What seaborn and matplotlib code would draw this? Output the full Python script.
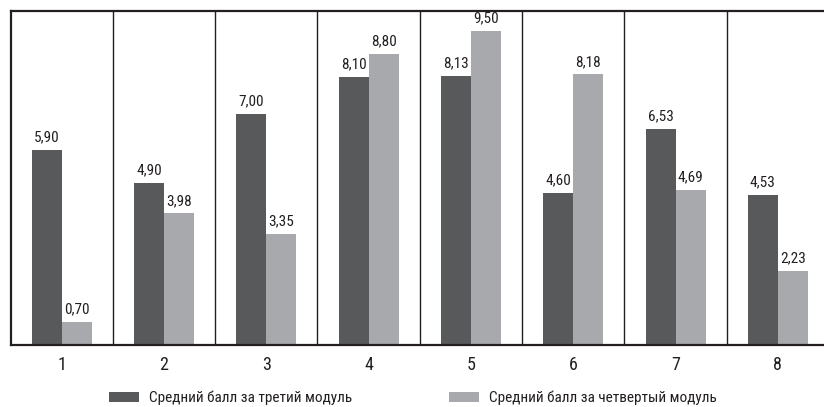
import matplotlib
matplotlib.use("Agg")
import matplotlib.pyplot as plt
from matplotlib import font_manager
from matplotlib.patches import Patch
import seaborn as sns
import pandas as pd

# Data
groups = ["1", "2", "3", "4", "5", "6", "7", "8"]
module3 = [5.90, 4.90, 7.00, 8.10, 8.13, 4.60, 6.53, 4.53]
module4 = [0.70, 3.98, 3.35, 8.80, 9.50, 8.18, 4.69, 2.23]
series_names = ["Средний балл за третий модуль", "Средний балл за четвертый модуль"]
colors = ["#58595b", "#a7a9ac"]

df = pd.DataFrame({
    "group": groups * 2,
    "value": module3 + module4,
    "series": [series_names[0]] * len(groups) + [series_names[1]] * len(groups),
})

sns.set_theme(style="white")
installed = {f.name for f in font_manager.fontManager.ttflist}
family = "DejaVu Sans"
for cand in ["Roboto Condensed", "Liberation Sans Narrow", "Open Sans Condensed", "Roboto"]:
    if cand in installed:
        family = cand
        break
plt.rcParams["font.family"] = [family, "DejaVu Sans"]

ink = "#231f20"

fig = plt.figure(figsize=(8.24, 4.07), dpi=100)
# the last column runs past the right edge of the canvas
ax = fig.add_axes([10.5 / 824, 62 / 407, 818.5 / 824, 334 / 407])

sns.barplot(data=df, x="group", y="value", hue="series", order=groups,
            hue_order=series_names, palette=colors, width=0.586,
            saturation=1, ax=ax, legend=False, linewidth=0)

for cont in ax.containers:
    ax.bar_label(cont, labels=[f"{v:.2f}".replace(".", ",") for v in cont.datavalues],
                 padding=4, fontsize=11, color=ink)

ax.set_xlim(-0.5, len(groups) - 0.5)
ax.set_ylim(0, 10.1)
ax.set_yticks([])
ax.set_xlabel("")
ax.set_ylabel("")
ax.tick_params(axis="x", length=0, labelsize=13, colors=ink, pad=8)

for i in range(1, len(groups)):
    ax.axvline(i - 0.5, color=ink, lw=1.0, zorder=0)

for side, sp in ax.spines.items():
    sp.set_visible(True)
    sp.set_color(ink)
    sp.set_linewidth(1.6)

handles = [Patch(facecolor=c, edgecolor="none") for c in colors]
fig.legend(handles, series_names, loc="center", bbox_to_anchor=(413 / 824, 1 - 398 / 407),
           ncol=2, frameon=False, fontsize=11, handlelength=2.0, handleheight=0.65,
           handletextpad=0.65, columnspacing=6.3, labelcolor=ink,
           borderpad=0, borderaxespad=0)

fig.savefig("out.png", dpi=100, facecolor="white")
